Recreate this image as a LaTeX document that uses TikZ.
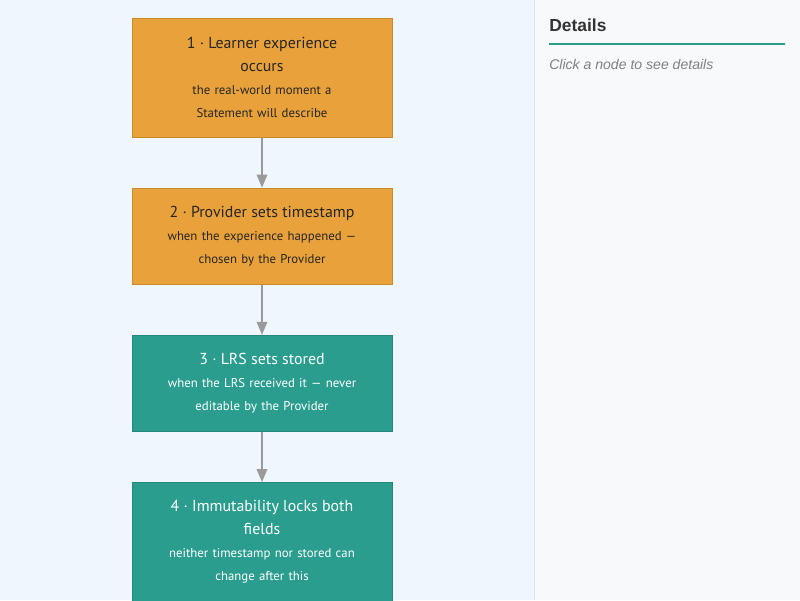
\documentclass[tikz,border=0pt]{standalone}
\usepackage{fontspec}
\setmainfont{PT Sans}
\newfontfamily\panelfont{Liberation Sans}
\usetikzlibrary{arrows, positioning}
\definecolor{canvas}{HTML}{EFF6FE}
\definecolor{panel}{HTML}{F7F9FB}
\definecolor{divider}{HTML}{DDE3EA}
\definecolor{amber}{HTML}{E9A23B}
\definecolor{amberline}{HTML}{C98A2E}
\definecolor{teal}{HTML}{2A9D8F}
\definecolor{tealline}{HTML}{23877A}
\definecolor{flowgray}{HTML}{9A9A9A}
\definecolor{accent}{HTML}{2A9D8F}
\newcommand{\stagetitle}[1]{{\fontsize{11.3}{16.4}\selectfont #1}}
\newcommand{\stagenote}[1]{{\fontsize{9.1}{16.4}\selectfont #1}}
\tikzstyle{stage} = [rectangle, minimum width=6.5cm, text width=6cm, align=center, inner sep=0pt, line width=0.6pt, font=\fontsize{9.1}{16.4pt}\selectfont]
\tikzstyle{provider} = [stage, fill=amber, draw=amberline, text=black!85]
\tikzstyle{lrs} = [stage, fill=teal, draw=tealline, text=white]
\tikzstyle{flow} = [line width=1.1pt, draw=flowgray, ->, >=triangle 45]

\begin{document}
\begin{tikzpicture}[node distance=1.25cm]
      \useasboundingbox (0,0) rectangle (20,-15);
      \clip (0,0) rectangle (20,-15);
      \fill[canvas] (0,0) rectangle (13.35,-15);
      \fill[panel] (13.35,0) rectangle (20,-15);
      \draw[divider, line width=0.6pt] (13.35,0) -- (13.35,-15);

      \node (experience) [provider, minimum height=2.975cm] at (6.55,-1.94)
        {\stagetitle{1 · Learner experience\\occurs}\\\stagenote{the real-world moment a\\Statement will describe}};
      \node (timestamp) [provider, minimum height=2.41cm, below=of experience]
        {\stagetitle{2 · Provider sets timestamp}\\\stagenote{when the experience happened —\\chosen by the Provider}};
      \node (stored) [lrs, minimum height=2.41cm, below=of timestamp]
        {\stagetitle{3 · LRS sets stored}\\\stagenote{when the LRS received it — never\\editable by the Provider}};
      \node (locked) [lrs, minimum height=2.975cm, below=of stored]
        {\stagetitle{4 · Immutability locks both\\fields}\\\stagenote{neither timestamp nor stored can\\change after this}};
      \draw [flow] (experience) -- (timestamp);
      \draw [flow] (timestamp) -- (stored);
      \draw [flow] (stored) -- (locked);

      \node (details) [anchor=west, inner sep=0pt, text=black!80] at (13.725,-0.62)
        {\panelfont\fontsize{12.4}{14}\selectfont\bfseries Details};
      \draw [accent, line width=1.4pt] (13.725,-1.1) -- (19.625,-1.1);
      \node (hint) [anchor=west, inner sep=0pt, text=black!50] at (13.725,-1.6)
        {\panelfont\fontsize{10}{12}\selectfont\itshape Click a node to see details};
    \end{tikzpicture}
\end{document}
